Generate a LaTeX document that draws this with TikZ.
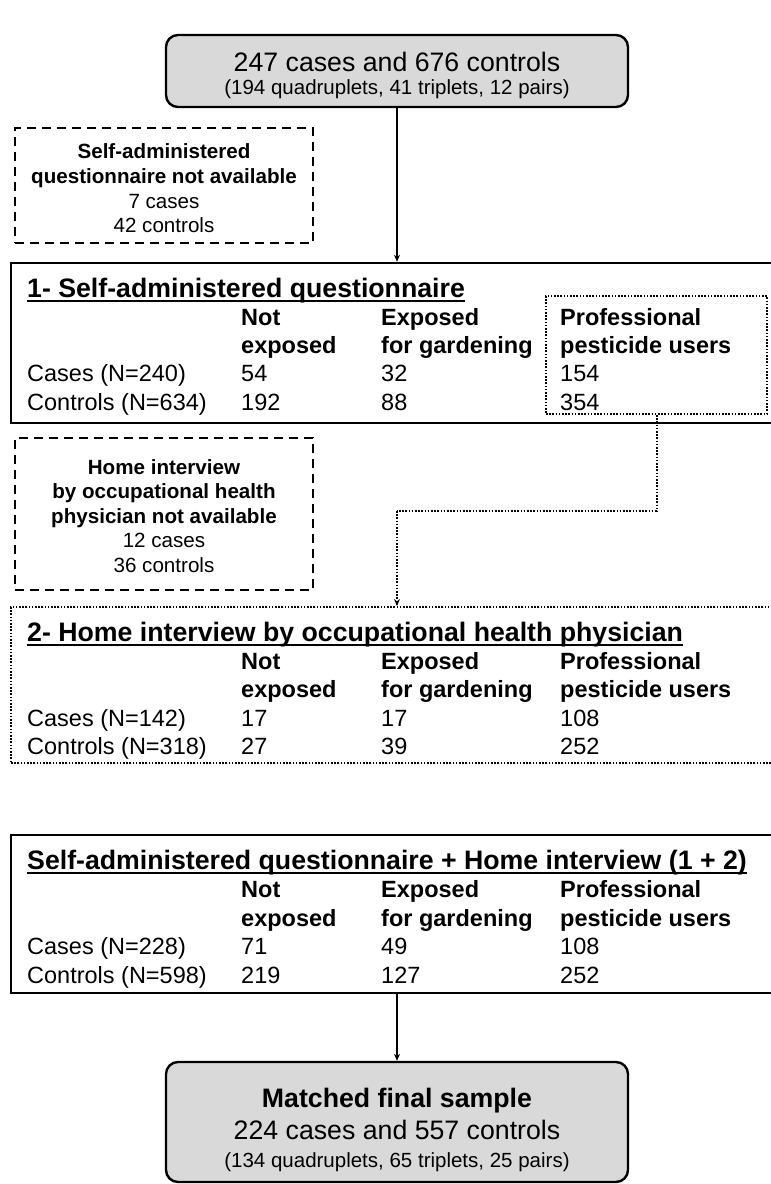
\documentclass[tikz,border=0pt]{standalone}
\usepackage{fontspec}
\setmainfont{Liberation Sans}
\usetikzlibrary{arrows.meta}
\begin{document}
\begin{tikzpicture}[x=1pt,y=-1pt,
  boxsolid/.style={draw, line width=2.4pt, inner sep=0, rectangle},
  roundbox/.style={draw, line width=2.4pt, inner sep=0, rounded corners=12pt, fill=black!15},
  dashbox/.style={draw, line width=2pt, dash pattern=on 9pt off 6pt, inner sep=0},
  dotbox/.style={draw, line width=2pt, dash pattern=on 1.6pt off 1.6pt, inner sep=0},
  dotline/.style={line width=2pt, dash pattern=on 1.6pt off 1.6pt},
  arr/.style={line width=1.6pt, -{Stealth[length=7pt,width=6pt]}},
  ttl/.style={inner sep=0, anchor=base west, font=\fontsize{26.7}{30}\selectfont\bfseries},
  hd/.style={inner sep=0, anchor=base west, font=\fontsize{23.5}{28}\selectfont\bfseries},
  cell/.style={inner sep=0, anchor=base west, font=\fontsize{23.5}{28}\selectfont},
  note/.style={inner sep=0, align=center, font=\fontsize{20.6}{24.6}\selectfont},
  big/.style={inner sep=0, anchor=base, font=\fontsize{26.7}{30}\selectfont},
  small/.style={inner sep=0, anchor=base, font=\fontsize{20.5}{24}\selectfont},
  uline/.style={line width=1.8pt}
]
\useasboundingbox (0,0) rectangle (771,1184);

% top box
\node[roundbox, minimum width=462pt, minimum height=72pt] (top) at (397,71) {};
\node[big] (topa) at (397,71.6) {247 cases and 676 controls};
\node[small] (topb) at (397,94) {(194 quadruplets, 41 triplets, 12 pairs)};

% dashed box 1
\node[dashbox, minimum width=298pt, minimum height=115pt] (na1) at (164,185.5) {};
\node[note] (na1t) at (164,188.5) {\textbf{Self-administered}\\\textbf{questionnaire not available}\\7 cases\\42 controls};

% box 1
\node[boxsolid, minimum width=762pt, minimum height=160pt] (b1) at (392,343) {};
\node[dotbox, minimum width=221pt, minimum height=118pt] (pro) at (656.5,355) {};
\node[ttl] (b1t) at (27,297) {1- Self-administered questionnaire};
\draw[uline] ([yshift=-4pt]b1t.base west) -- ([yshift=-4pt]b1t.base east);
\node[hd] (b1h1) at (241,325) {Not};
\node[hd] (b1h2) at (241,353) {exposed};
\node[hd] (b1h3) at (381,325) {Exposed};
\node[hd] (b1h4) at (381,353) {for gardening};
\node[hd] (b1h5) at (560,325) {Professional};
\node[hd] (b1h6) at (560,353) {pesticide users};
\node[cell] (b1r1) at (27,381) {Cases (N=240)};
\node[cell] (b1r1a) at (241,381) {54};
\node[cell] (b1r1b) at (381,381) {32};
\node[cell] (b1r1c) at (560,381) {154};
\node[cell] (b1r2) at (27,410) {Controls (N=634)};
\node[cell] (b1r2a) at (241,410) {192};
\node[cell] (b1r2b) at (381,410) {88};
\node[cell] (b1r2c) at (560,410) {354};

% dashed box 2
\node[dashbox, minimum width=298pt, minimum height=152pt] (na2) at (164,514) {};
\node[note] (na2t) at (164,516) {\textbf{Home interview}\\\textbf{by occupational health}\\\textbf{physician not available}\\12 cases\\36 controls};

% box 2
\node[dotbox, minimum width=762pt, minimum height=156pt] (b2) at (392,685) {};
\node[ttl] (b2t) at (27,641) {2- Home interview by occupational health physician};
\draw[uline] ([yshift=-4pt]b2t.base west) -- ([yshift=-4pt]b2t.base east);
\node[hd] (b2h1) at (241,669) {Not};
\node[hd] (b2h2) at (241,697) {exposed};
\node[hd] (b2h3) at (381,669) {Exposed};
\node[hd] (b2h4) at (381,697) {for gardening};
\node[hd] (b2h5) at (560,669) {Professional};
\node[hd] (b2h6) at (560,697) {pesticide users};
\node[cell] (b2r1) at (27,726) {Cases (N=142)};
\node[cell] (b2r1a) at (241,726) {17};
\node[cell] (b2r1b) at (381,726) {17};
\node[cell] (b2r1c) at (560,726) {108};
\node[cell] (b2r2) at (27,754) {Controls (N=318)};
\node[cell] (b2r2a) at (241,754) {27};
\node[cell] (b2r2b) at (381,754) {39};
\node[cell] (b2r2c) at (560,754) {252};

% box 3
\node[boxsolid, minimum width=762pt, minimum height=158pt] (b3) at (392,914) {};
\node[ttl] (b3t) at (27,869) {Self-administered questionnaire + Home interview (1 + 2)};
\draw[uline] ([yshift=-4pt]b3t.base west) -- ([yshift=-4pt]b3t.base east);
\node[hd] (b3h1) at (241,897) {Not};
\node[hd] (b3h2) at (241,926) {exposed};
\node[hd] (b3h3) at (381,897) {Exposed};
\node[hd] (b3h4) at (381,926) {for gardening};
\node[hd] (b3h5) at (560,897) {Professional};
\node[hd] (b3h6) at (560,926) {pesticide users};
\node[cell] (b3r1) at (27,954) {Cases (N=228)};
\node[cell] (b3r1a) at (241,954) {71};
\node[cell] (b3r1b) at (381,954) {49};
\node[cell] (b3r1c) at (560,954) {108};
\node[cell] (b3r2) at (27,983) {Controls (N=598)};
\node[cell] (b3r2a) at (241,983) {219};
\node[cell] (b3r2b) at (381,983) {127};
\node[cell] (b3r2c) at (560,983) {252};

% final box
\node[roundbox, minimum width=462pt, minimum height=120pt] (fin) at (397,1122) {};
\node[big, font=\fontsize{26.7}{30}\selectfont\bfseries] (fina) at (397,1107.5) {Matched final sample};
\node[big] (finb) at (397,1139.5) {224 cases and 557 controls};
\node[small] (finc) at (397,1167) {(134 quadruplets, 65 triplets, 25 pairs)};

% connectors
\draw[arr] (top.south) -- (top.south |- b1.north);
\coordinate (j) at (397,511);
\draw[dotline] (pro.south) |- (j);
\draw[dotline, arr, dash pattern=on 1.6pt off 1.6pt, line width=2pt] (j) -- (j |- b2.north);
\draw[arr] (fin.north |- b3.south) -- (fin.north);
\end{tikzpicture}
\end{document}
